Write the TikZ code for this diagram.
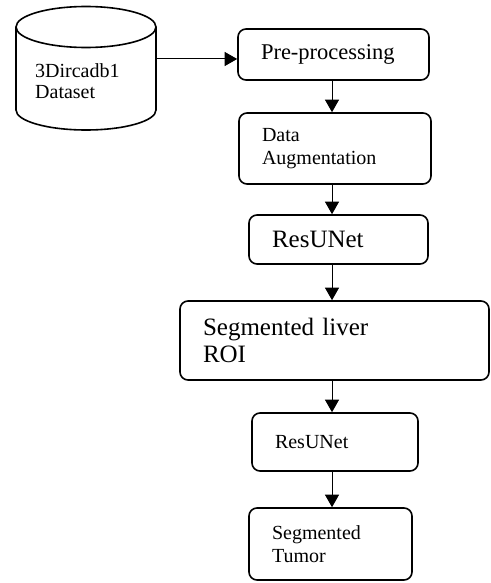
\documentclass[tikz,border=0pt]{standalone}
\usepackage{fontspec}
\setmainfont{Liberation Serif}
\usetikzlibrary{arrows.meta}
\begin{document}
\begin{tikzpicture}[x=1pt,y=-1pt,
  box/.style={draw, line width=1.6pt, rounded corners=8pt, align=left,
    inner xsep=23pt, inner ysep=0pt, font=\fontsize{20}{23}\selectfont},
  big/.style={font=\fontsize{25}{27}\selectfont},
  arr/.style={line width=1pt, -{Triangle[length=12.5pt,width=14pt]}},
  cyl/.style={line width=1.6pt}]
\useasboundingbox (0,0) rectangle (490,583);
% cylinder (database)
\draw[cyl] (16,27) -- (16,110) arc[start angle=180,end angle=360,x radius=70pt,y radius=20pt] -- (156,27);
\draw[cyl] (86,27) ellipse[x radius=70pt, y radius=20.5pt];
\node[anchor=west, align=left, inner sep=0pt, font=\fontsize{20}{21}\selectfont] (db) at (35,81) {3Dircadb1\\Dataset};
\coordinate (dbr) at (156,59);
\coordinate (ax) at (332,0);
% boxes
\node[box, text width=145pt, minimum height=51pt, font=\fontsize{22.5}{24}\selectfont] (pre) at (333.5,54.5) {Pre-processing};
\node[box, text width=146pt, minimum height=71pt] (data) at (335,148.5) {Data\\Augmentation};
\node[box, big, text width=133pt, minimum height=49pt] (res1) at (338.5,239.5) {ResUNet};
\node[box, big, text width=263pt, minimum height=79pt] (liver) at (334.5,340.5) {Segmented liver\\ROI};
\node[box, text width=120pt, minimum height=58pt] (res2) at (335,442) {ResUNet};
\node[box, text width=117pt, minimum height=72pt] (tumor) at (330.5,544) {Segmented\\Tumor};
% connectors
\draw[arr] (dbr) -- (dbr -| pre.west);
\draw[arr] (pre.south -| ax) -- (data.north -| ax);
\draw[arr] (data.south -| ax) -- (res1.north -| ax);
\draw[arr] (res1.south -| ax) -- (liver.north -| ax);
\draw[arr] (liver.south -| ax) -- (res2.north -| ax);
\draw[arr] (res2.south -| ax) -- (tumor.north -| ax);
\end{tikzpicture}
\end{document}
